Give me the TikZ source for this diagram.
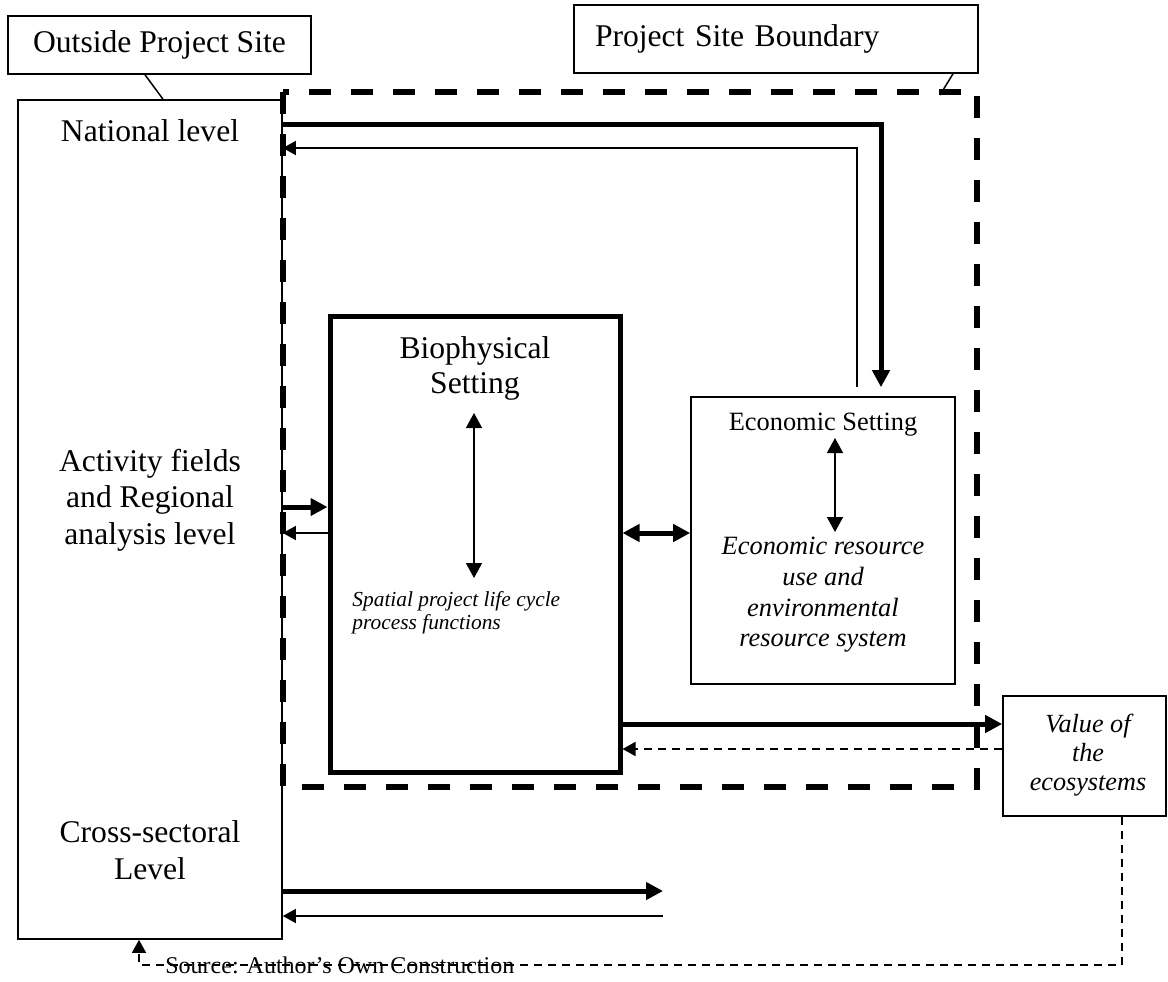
\documentclass[tikz,border=0pt]{standalone}
\usepackage{fontspec}
\setmainfont{Liberation Serif}
\usetikzlibrary{arrows.meta}

\begin{document}
\begin{tikzpicture}[x=0.5pt,y=-0.5pt,
  box/.style={draw,line width=0.8pt,inner sep=0pt},
  big/.style={font=\fontsize{15.8}{18.25}\selectfont,align=center},
  mid/.style={font=\fontsize{13.2}{15.4}\selectfont,align=center},
  heavy/.style={line width=2.5pt,-{Triangle[length=8.5pt,width=8.5pt]}},
  heavytwo/.style={line width=2.5pt,{Triangle[length=8.5pt,width=8.5pt]}-{Triangle[length=8.5pt,width=8.5pt]}},
  light/.style={line width=0.75pt,-{Triangle[length=6.5pt,width=7pt]}},
  lighttwo/.style={line width=0.75pt,{Triangle[length=7.5pt,width=8pt]}-{Triangle[length=7.5pt,width=8pt]}},
  lightdash/.style={light,dash pattern=on 4pt off 3pt}]
\useasboundingbox (0,0) rectangle (1168,981);

% project site boundary
\draw[line width=3pt,dash pattern=on 11pt off 10pt] (283,92) rectangle (977,787);

\node[box,minimum width=151.5pt,minimum height=29pt,big] (outside) at (159.5,45) {Outside Project Site};
\node[box,text width=181pt,inner xsep=10.5pt,minimum height=34pt,big,align=left] (sitelbl) at (776,39) {Project Site Boundary};

\node[box,minimum width=132pt,minimum height=419.5pt] (levels) at (150,519.5) {};
\node[big] (national) at (150,131) {National level};
\node[big] (activity) at (150,500) {Activity fields\\and Regional\\analysis level};
\node[big,font=\fontsize{15.8}{18.5}\selectfont] (cross) at (150,850) {Cross-sectoral\\Level};

\node[box,line width=2.5pt,minimum width=145pt,minimum height=228pt] (bio) at (475,544) {};
\node[big,font=\fontsize{15.8}{17.5}\selectfont] (biotitle) at (475,368) {Biophysical\\Setting};
\node[font=\fontsize{10.7}{11.5}\selectfont\itshape,align=left,anchor=west,inner sep=0pt] (biosub) at (352,613) {Spatial project life cycle\\process functions};

\node[box,minimum width=132pt,minimum height=143.5pt] (econ) at (823,540.5) {};
\node[mid] (econtitle) at (823,425) {Economic Setting};
\node[mid,font=\fontsize{13.2}{15.35}\selectfont\itshape] (econsub) at (823,595) {Economic resource\\use and\\environmental\\resource system};

\node[box,minimum width=81.5pt,minimum height=60pt] (value) at (1084.5,756) {};
\node[mid,font=\fontsize{13.1}{14.5}\selectfont\itshape] (valuetxt) at (1088,755) {Value of\\the\\ecosystems};

\node[font=\fontsize{12}{14}\selectfont,anchor=west,inner sep=0pt] (source) at (165,965) {Source: Author’s Own Construction};

\coordinate (b1) at (474,413);
\coordinate (b2) at (474,578);
\coordinate (e1) at (835,438);
\coordinate (e2) at (835,532);
\coordinate (xout) at (663,891);
\coordinate (xin) at (663,916);
\coordinate (srcturn) at (139,965);
\coordinate (sitept) at (940,95);

\draw[line width=0.75pt] (outside.south -| 145,0) -- (levels.north -| 163,0);
\draw[line width=0.75pt] (sitelbl.south -| 953,0) -- (sitept);

\draw[heavy] (levels.east |- 0,124) -| ([xshift=29pt,yshift=4.5pt]econ.north);
\draw[light] ([xshift=17pt,yshift=4.5pt]econ.north) |- (levels.east |- 0,148);
\draw[heavy] (levels.east |- 0,507) -- (bio.west |- 0,507);
\draw[light] (bio.west |- 0,533) -- (levels.east |- 0,533);
\draw[heavytwo] (bio.east |- 0,533) -- (econ.west |- 0,533);
\draw[lighttwo] (b1) -- (b2);
\draw[lighttwo] (e1) -- (e2);
\draw[heavy] (bio.east |- 0,724) -- (value.west |- 0,724);
\draw[lightdash] (value.west |- 0,749) -- (bio.east |- 0,749);
\draw[heavy] (levels.east |- xout) -- (xout);
\draw[light] (xin) -- (levels.east |- xin);
\draw[lightdash] ([xshift=18.75pt]value.south) |- (srcturn) -- (levels.south -| srcturn);
\end{tikzpicture}
\end{document}
